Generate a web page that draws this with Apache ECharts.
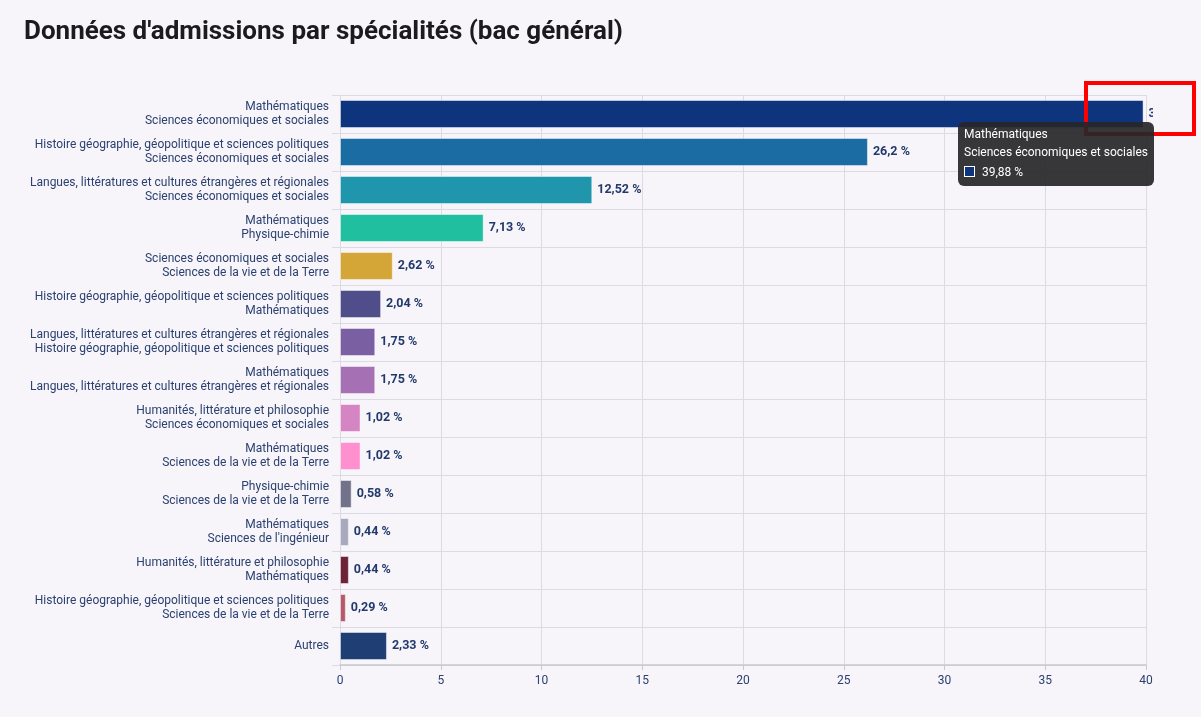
<!DOCTYPE html>
<html>
<head>
<meta charset="utf-8">
<script src="https://cdn.jsdelivr.net/npm/echarts@6/dist/echarts.min.js"></script>
<style>
  html, body { margin: 0; padding: 0; background: #f7f5fa; }
  #wrap { position: relative; width: 1201px; height: 717px; }
  #main { position: absolute; left: 0; top: 0; width: 1153px; height: 717px; overflow: hidden; }
  #mark { position: absolute; left: 1084px; top: 81px; width: 104px; height: 47px; border: 4px solid #ff0000; }
</style>
</head>
<body>
<div id="wrap">
  <div id="main"></div>
  <div id="mark"></div>
</div>
<script>
// spécialités (bac général)
var categories = [
    'Mathématiques\nSciences économiques et sociales',
    'Histoire géographie, géopolitique et sciences politiques\nSciences économiques et sociales',
    'Langues, littératures et cultures étrangères et régionales\nSciences économiques et sociales',
    'Mathématiques\nPhysique-chimie',
    'Sciences économiques et sociales\nSciences de la vie et de la Terre',
    'Histoire géographie, géopolitique et sciences politiques\nMathématiques',
    'Langues, littératures et cultures étrangères et régionales\nHistoire géographie, géopolitique et sciences politiques',
    'Mathématiques\nLangues, littératures et cultures étrangères et régionales',
    'Humanités, littérature et philosophie\nSciences économiques et sociales',
    'Mathématiques\nSciences de la vie et de la Terre',
    'Physique-chimie\nSciences de la vie et de la Terre',
    'Mathématiques\nSciences de l\'ingénieur',
    'Humanités, littérature et philosophie\nMathématiques',
    'Histoire géographie, géopolitique et sciences politiques\nSciences de la vie et de la Terre',
    'Autres'
];
var values = [39.88, 26.2, 12.52, 7.13, 2.62, 2.04, 1.75, 1.75, 1.02, 1.02, 0.58, 0.44, 0.44, 0.29, 2.33];
var barColors = ['#0f347e', '#1a6ca2', '#1f96ac', '#20bf9f', '#d4a637', '#4f4e8b', '#7b5fa3', '#a571b4',
    '#d585c3', '#ff90d0', '#72738a', '#a8a9bd', '#6c2237', '#b45a6a', '#1f3e74'];
var xTicks = [0, 5, 10, 15, 20, 25, 30, 35, 40];

function fr(v) {
    return String(v).replace('.', ',') + ' %';
}

var myChart = echarts.init(document.getElementById('main'));
var option = {
    backgroundColor: '#f7f5fa',
    textStyle: { fontFamily: 'Roboto' },
    title: {
        text: 'Données d\'admissions par spécialités (bac général)',
        left: 19,
        top: 14,
        textStyle: { fontSize: 26, fontWeight: 'bold', color: '#1b1b1f', fontFamily: 'Roboto' }
    },
    tooltip: {
        trigger: 'item',
        alwaysShowContent: true,
        appendTo: 'body',
        backgroundColor: 'rgba(38,38,40,0.92)',
        borderWidth: 0,
        borderRadius: 6,
        padding: [3, 6, 5, 6],
        textStyle: { color: '#fff', fontSize: 12, fontFamily: 'Roboto' },
        extraCssText: 'box-shadow:none;line-height:18px;',
        position: function () { return [958, 122]; },
        formatter: function (p) {
            return p.name.replace('\n', '<br/>') + '<br/>' +
                '<div style="margin-top:2px"><span style="display:inline-block;width:9px;height:9px;border:1px solid #fff;background:' +
                p.color + ';margin-right:7px;vertical-align:-1px"></span>' + fr(p.value) + '</div>';
        }
    },
    grid: { left: 340, right: 7, top: 95, bottom: 52, containLabel: false, outerBoundsMode: 'none' },
    xAxis: {
        type: 'value',
        min: 0,
        max: 40,
        interval: 5,
        axisLine: { show: true, lineStyle: { color: '#c9c8d0', width: 1.5 } },
        axisTick: { show: true, length: 5, lineStyle: { color: '#c9c8d0' } },
        axisLabel: {
            color: '#2b4170', fontSize: 12, margin: 10,
            formatter: function (v) { return xTicks.indexOf(v) >= 0 ? String(v) : ''; }
        },
        splitLine: { show: true, lineStyle: { color: '#dcdae2' } }
    },
    yAxis: {
        type: 'category',
        inverse: true,
        data: categories,
        axisLine: { show: false },
        axisTick: { show: true, length: 8, lineStyle: { color: '#dcdae2' } },
        axisLabel: { color: '#2b4170', fontSize: 12, lineHeight: 14, margin: 11 },
        splitLine: { show: true, lineStyle: { color: '#dcdae2' } }
    },
    series: [
        {
            name: 'Admissions',
            type: 'bar',
            data: values.map(function (v, i) {
                return { value: v, itemStyle: { color: barColors[i] } };
            }),
            barWidth: 28,
            itemStyle: { borderColor: 'rgba(255,255,255,0.45)', borderWidth: 1 },
            label: {
                show: true,
                position: 'right',
                distance: 5,
                color: '#213a6b',
                fontSize: 12.5,
                fontWeight: 'bold',
                formatter: function (p) { return fr(p.value); }
            }
        }
    ]
};
myChart.setOption(option);
myChart.dispatchAction({ type: 'showTip', seriesIndex: 0, dataIndex: 0 });
</script>
</body>
</html>
